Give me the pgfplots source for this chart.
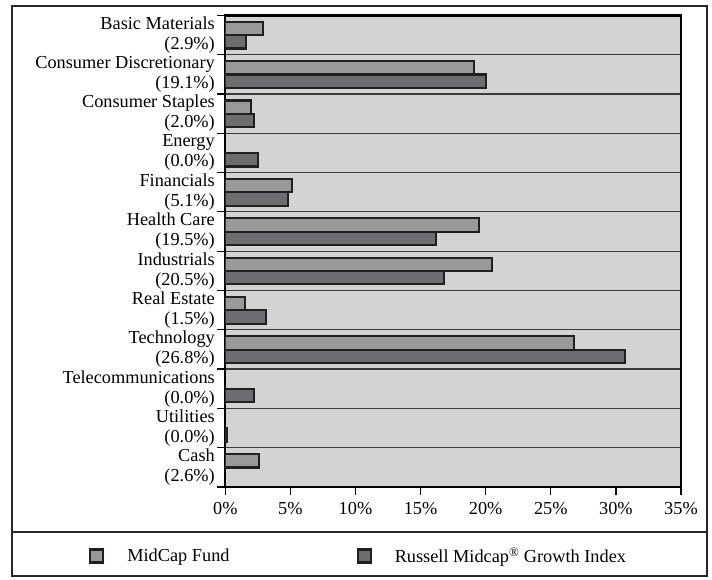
\documentclass[border=0pt]{standalone}
\usepackage{pgfplots}
\pgfplotsset{compat=1.18}
\usepackage{fontspec}
\setmainfont{Liberation Serif}

\definecolor{panel}{HTML}{D1D3D4}
\definecolor{fundgray}{HTML}{98999B}
\definecolor{indexgray}{HTML}{6C6D70}
\definecolor{edge}{HTML}{231F20}
\definecolor{rulegray}{HTML}{3A3A3C}

\newcommand{\chartfont}{\fontsize{18.3bp}{20bp}\selectfont}

\begin{document}
\begin{tikzpicture}
% page area, in the same units as the drawing (1bp per pixel)
\path[use as bounding box] (-225.3bp,-93bp) rectangle (486.7bp,487bp);

\begin{axis}[
  at={(0,0)}, anchor=south west,
  scale only axis, width=455.7bp, height=471.7bp,
  xbar, bar width=0.34,
  legend image code/.code={\draw[#1, line width=2.2bp] (0bp,-6.5bp) rectangle (13bp,6.5bp);},
  xmin=0, xmax=35, ymin=-0.5, ymax=11.5, y dir=reverse,
  axis background/.style={fill=panel},
  axis line style={line width=2.4bp, draw=black},
  xtick={0,5,...,35},
  xticklabels={0\%,5\%,10\%,15\%,20\%,25\%,30\%,35\%},
  ytick={-0.5,0.5,...,11.5},
  y tick label as interval,
  yticklabels={
    {Basic Materials\\(2.9\%)},
    {Consumer Discretionary\\(19.1\%)},
    {Consumer Staples\\(2.0\%)},
    {Energy\\(0.0\%)},
    {Financials\\(5.1\%)},
    {Health Care\\(19.5\%)},
    {Industrials\\(20.5\%)},
    {Real Estate\\(1.5\%)},
    {Technology\\(26.8\%)},
    {Telecommunications\\(0.0\%)},
    {Utilities\\(0.0\%)},
    {Cash\\(2.6\%)}},
  yticklabel style={align=right, font=\chartfont, xshift=1bp},
  xticklabel style={font=\chartfont, yshift=-4bp},
  tick pos=left, tick align=outside,
  major tick length=8bp,
  tick style={line width=1.3bp, draw=black},
  ymajorgrids,
  major grid style={line width=1.2bp, draw=rulegray},
  legend columns=2,
  legend style={
    at={(axis description cs:-0.2991,-0.1463)}, anchor=west,
    draw=none, fill=none, inner sep=0pt, font=\chartfont,
    /tikz/every odd column/.append style={column sep=21bp},
    /tikz/every even column/.append style={column sep=125bp}},
]
% MidCap Fund (sectors at 0.0% carry no bar)
\addplot[fill=fundgray, draw=edge, line width=2.2bp, bar shift=-0.165]
  coordinates {(2.9,0) (19.1,1) (2.0,2) (5.1,4) (19.5,5) (20.5,6)
               (1.5,7) (26.8,8) (2.6,11)};
% Russell Midcap Growth Index
\addplot[fill=indexgray, draw=edge, line width=2.2bp, bar shift=0.175]
  coordinates {(1.6,0) (20.0,1) (2.2,2) (2.5,3) (4.8,4) (16.2,5)
               (16.8,6) (3.1,7) (30.7,8) (2.2,9) (0.15,10)};
\legend{MidCap Fund, Russell Midcap\textsuperscript{\textregistered} Growth Index}
\end{axis}

% outer frame and the rule above the legend
\draw[line width=2.8bp, draw=black!85] (-213.3bp,-89bp) rectangle (481.7bp,481bp);
\draw[line width=2.5bp, draw=black!85] (-213.3bp,-45bp) -- (481.7bp,-45bp);
\end{tikzpicture}
\end{document}
